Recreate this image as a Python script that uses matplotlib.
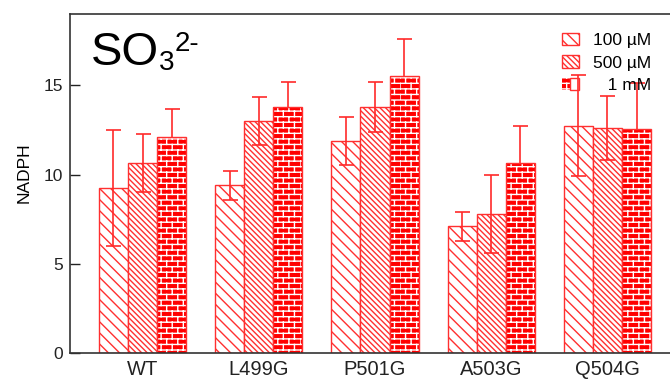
"""NADPH response to sulfite for WT and point mutants, three concentrations.

    python plot.py  ->  out.png
"""
import warnings

import matplotlib

matplotlib.use("Agg")
import matplotlib.hatch as mhatch  # noqa: E402
import matplotlib.pyplot as plt  # noqa: E402
import numpy as np  # noqa: E402
from matplotlib.legend_handler import HandlerTuple  # noqa: E402
from matplotlib.path import Path  # noqa: E402

warnings.simplefilter("ignore")

groups = ["WT", "L499G", "P501G", "A503G", "Q504G"]
conc_labels = ["100 µM", "500 µM", "   1 mM"]
nadph_100 = [9.25, 9.4, 11.9, 7.1, 12.75]
err_100 = [3.25, 0.8, 1.35, 0.8, 2.85]
nadph_500 = [10.65, 13.0, 13.8, 7.8, 12.6]
err_500 = [1.6, 1.35, 1.4, 2.2, 1.8]
nadph_1m = [12.1, 13.8, 15.5, 10.65, 12.55]
err_1m = [1.6, 1.4, 2.1, 2.1, 2.6]

EDGE_C = "#ff3030"
FILL_C = "#ff0000"
ERR_C = "#ff2a2a"


class BrickHatch(mhatch.HatchPatternBase):
    """'b' in a hatch string -> staggered brick wall."""

    def __init__(self, hatch, density):
        rows = hatch.count("b") * density
        self.rows = rows - rows % 2
        self.cols = self.rows // 2
        self.num_vertices = (2 * (self.rows + 1) + 2 * self.rows * self.cols) if self.rows else 0

    def set_vertices_and_codes(self, vertices, codes):
        k = 0
        for i in range(self.rows + 1):
            y = i / self.rows
            vertices[k] = (0, y)
            vertices[k + 1] = (1, y)
            k += 2
        for i in range(self.rows):
            y0, y1 = i / self.rows, (i + 1) / self.rows
            off = 0.5 * (i % 2) / self.cols
            for j in range(self.cols):
                x = j / self.cols + off
                vertices[k] = (x, y0)
                vertices[k + 1] = (x, y1)
                k += 2
        codes[0::2] = Path.MOVETO
        codes[1::2] = Path.LINETO


mhatch._hatch_types.append(BrickHatch)

plt.rcParams.update({
    "font.family": ["Liberation Sans", "DejaVu Sans"],
    "hatch.linewidth": 1.0,
})

fig = plt.figure(figsize=(6.7, 3.8), dpi=100)
ax = fig.add_axes([0.1045, 0.0711, 0.8955, 0.8919])

x = np.arange(len(groups))
w = 0.25
ekw = dict(fmt="none", ecolor=ERR_C, elinewidth=1.2, capsize=5.4, capthick=1.2)

b100 = ax.bar(x - w, nadph_100, w, color="white", edgecolor=EDGE_C, hatch="\\\\\\",
              linewidth=1.0, zorder=1)
b500 = ax.bar(x, nadph_500, w, color="white", edgecolor=EDGE_C, hatch="\\\\\\\\\\\\",
              linewidth=1.0, zorder=1)
b1m_fill = ax.bar(x + w, nadph_1m, w, color=FILL_C, edgecolor="white", hatch="bbb",
                  linewidth=0, zorder=2)
b1m_edge = ax.bar(x + w, nadph_1m, w, fill=False, edgecolor=EDGE_C, linewidth=1.0, zorder=2)

ax.errorbar(x - w, nadph_100, yerr=err_100, zorder=5, **ekw)
ax.errorbar(x, nadph_500, yerr=err_500, zorder=5, **ekw)
# the 1 mM whiskers sit behind their own solid bars
ax.errorbar(x + w, nadph_1m, yerr=err_1m, zorder=1.5, **ekw)

ax.set_xlim(-0.624, 4.538)
ax.set_ylim(0, 19)
ax.set_yticks([0, 5, 10, 15])
ax.set_xticks(x)
ax.set_xticklabels(groups)
ax.tick_params(axis="y", direction="in", length=7, width=1, pad=5, labelsize=12.5, colors="#222222")
ax.tick_params(axis="x", length=0, pad=5, labelsize=14.5, colors="#222222")
ax.set_ylabel("NADPH", fontsize=12.5)
ax.yaxis.set_label_coords(-0.064, 0.532)

for side in ("left", "bottom", "top"):
    ax.spines[side].set_color("#333333")
    ax.spines[side].set_linewidth(1.2)
ax.spines["right"].set_visible(False)

# SO3 2- label: main text plus hand-placed sub/superscript
anchor = (0.035, 0.85)
ax.annotate("SO", anchor, xycoords="axes fraction", fontsize=34, va="baseline", ha="left")
ax.annotate("3", anchor, xycoords="axes fraction", xytext=(49, -4), textcoords="offset points",
            fontsize=20, va="baseline", ha="left")
ax.annotate("2-", anchor, xycoords="axes fraction", xytext=(60, 10), textcoords="offset points",
            fontsize=20, va="baseline", ha="left")

ax.legend([b100, b500, (b1m_fill, b1m_edge)], conc_labels,
          handler_map={tuple: HandlerTuple(ndivide=None, pad=0)},
          loc="upper right", bbox_to_anchor=(0.988, 0.98), frameon=False, fontsize=12.5,
          handlelength=0.95, handleheight=0.7, handletextpad=0.8, labelspacing=0.42,
          borderpad=0.2)

fig.savefig("out.png", dpi=100)
